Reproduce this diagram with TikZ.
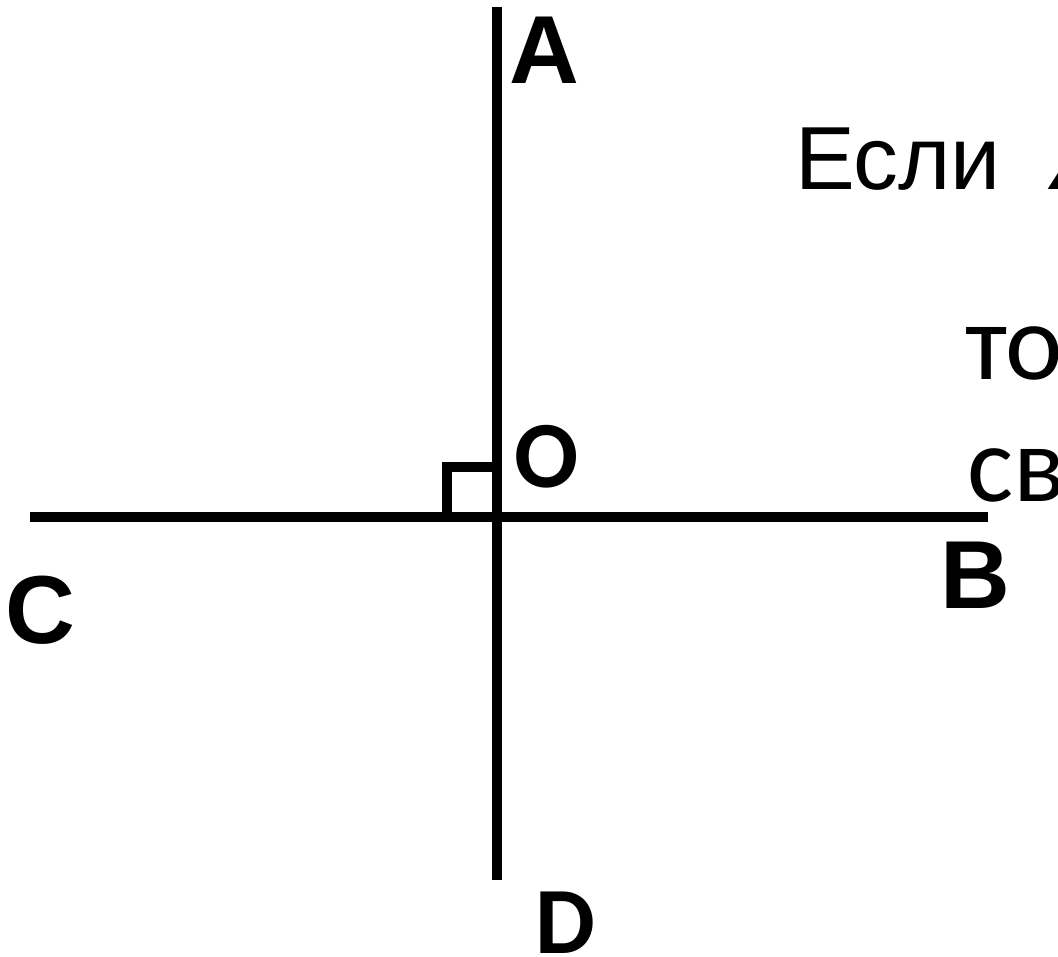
\documentclass[tikz,border=0pt]{standalone}
\usepackage{fontspec}
\usepackage{tkz-euclide}
\setmainfont{Liberation Sans}
\newfontfamily\calfont{Carlito}
\newfontfamily\symfont{DejaVu Sans}
\tikzset{
  lblA/.style={font=\fontsize{55}{60}\selectfont\bfseries,inner sep=0pt},
  lblO/.style={font=\calfont\fontsize{54}{60}\selectfont\bfseries,inner sep=0pt},
  txt/.style={anchor=base west,inner sep=0pt}
}

\begin{document}
\begin{tikzpicture}
\useasboundingbox (0,0) rectangle (21.16,19.14);
\clip (0,0) rectangle (21.16,19.14);
\tkzSetUpLine[line width=0.2cm,color=black]

\tkzDefPoints{9.94/19.0/A,9.94/1.54/D,0.6/8.8/C,19.76/8.8/B,9.94/8.8/O}

\tkzDrawSegment[line width=0.2cm,line cap=butt](A,D)
\tkzDrawSegment[line width=0.2cm,line cap=butt](C,B)
\tkzMarkRightAngle[size=1.0,line width=0.2cm,line cap=butt](C,O,A)

\node[lblA] (labA) at (10.88,18.14) {A};
\node[lblO] (labO) at (10.94,10.0) {O};
\node[lblA] (labB) at (19.5,7.64) {B};
\node[lblA] (labC) at (0.8,6.94) {C};
\node[lblO] (labD) at (11.3,0.68) {D};

\node[txt,font=\fontsize{51}{56}\selectfont] (esli) at (15.8,15.34)
  {Если\hspace{0.8cm}{\symfont ∠}};
\node[txt,font=\calfont\fontsize{62}{66}\selectfont] (to) at (19.2,11.54) {то};
\node[txt,font=\calfont\fontsize{62}{66}\selectfont] (sv) at (19.24,9.1) {св};

\end{tikzpicture}
\end{document}
